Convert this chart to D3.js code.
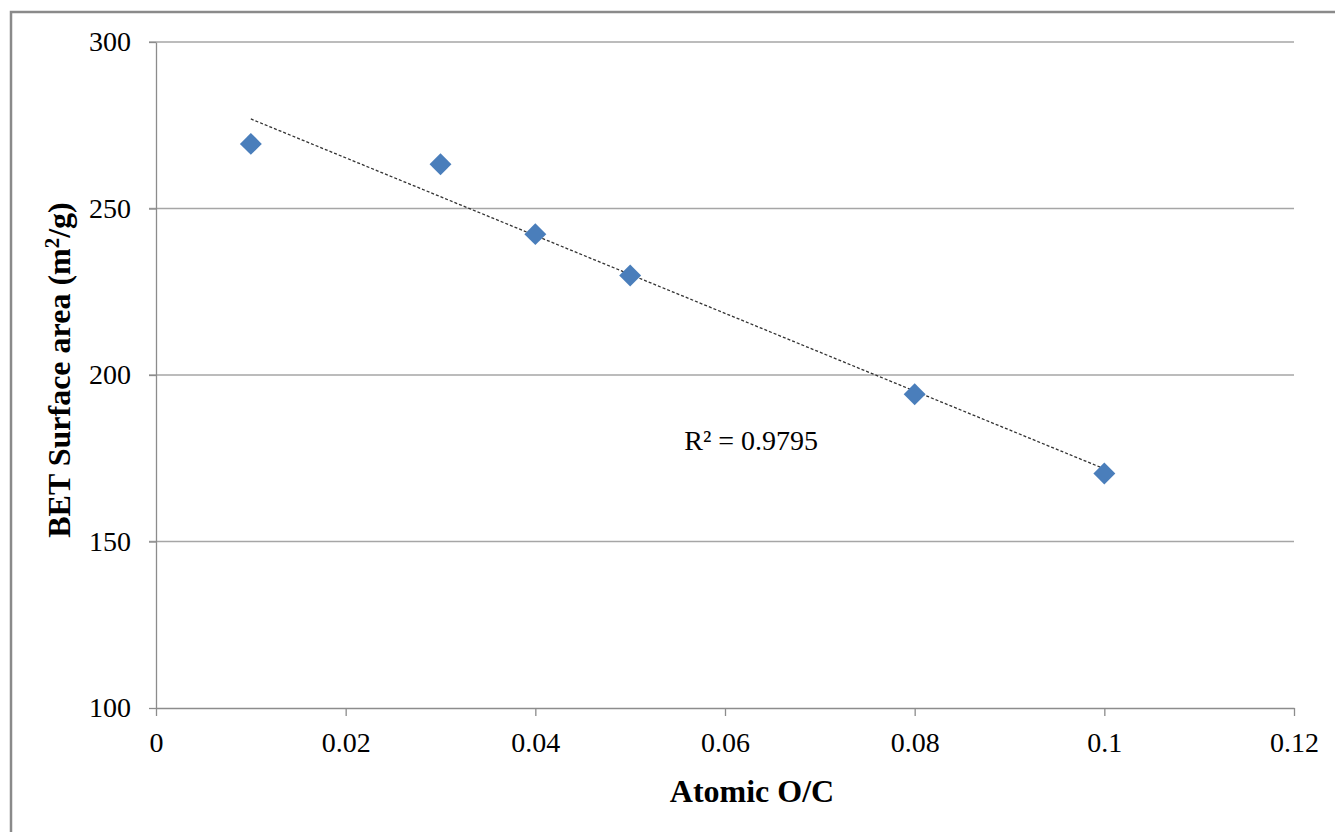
<!DOCTYPE html>
<html>
<head>
<meta charset="utf-8">
<script src="https://cdn.jsdelivr.net/npm/d3@7"></script>
<style>
  body { margin: 0; background: #fff; }
  text { font-family: "Liberation Serif", "Times New Roman", serif; }
</style>
</head>
<body>
<div id="chart"></div>
<script>
// data
var oc = [0.01, 0.03, 0.04, 0.05, 0.08, 0.1];
var bet = [269.4, 263.3, 242.3, 229.9, 194.2, 170.4];
var xTicks = [0, 0.02, 0.04, 0.06, 0.08, 0.1, 0.12];
var yTicks = [100, 150, 200, 250, 300];
var r2Label = "R² = 0.9795";

var W = 1335, H = 832;
var margin = {top: 42, right: 41, bottom: 124, left: 156},
  width = W - margin.left - margin.right,
  height = H - margin.top - margin.bottom;

var svg = d3.select("#chart")
.append("svg")
  .attr("width", W)
  .attr("height", H);

// outer chart frame (cut off at right/bottom)
svg.append("rect")
  .attr("x", 11).attr("y", 12)
  .attr("width", W + 20).attr("height", H + 20)
  .attr("fill", "none")
  .attr("stroke", "#8a8a8a")
  .attr("stroke-width", 2.5);

var g = svg.append("g")
  .attr("transform", "translate(" + margin.left + "," + margin.top + ")");

var x = d3.scaleLinear().domain([0, 0.12]).range([0, width]);
var y = d3.scaleLinear().domain([100, 300]).range([height, 0]);

// horizontal gridlines
g.append("g")
  .selectAll("line")
  .data(yTicks.filter(function(d) { return d > 100; }))
  .enter().append("line")
  .attr("x1", -7).attr("x2", width)
  .attr("y1", function(d) { return y(d); })
  .attr("y2", function(d) { return y(d); })
  .attr("stroke", "#a6a6a6")
  .attr("stroke-width", 1.3);

// y axis
var yAxis = g.append("g")
  .call(d3.axisLeft(y).tickValues(yTicks).tickSize(7).tickSizeOuter(0).tickPadding(18).tickFormat(d3.format("d")));
yAxis.select(".domain").attr("stroke", "#8c8c8c").attr("stroke-width", 1.3);
yAxis.selectAll(".tick line").attr("stroke", "#8c8c8c").attr("stroke-width", 1.3);
yAxis.selectAll("text")
  .style("font-size", "28px")
  .attr("fill", "#000");

// x axis
var xAxis = g.append("g")
  .attr("transform", "translate(0," + height + ")")
  .call(d3.axisBottom(x).tickValues(xTicks).tickSize(8).tickSizeOuter(0).tickPadding(16).tickFormat(function(d) { return d === 0 ? "0" : d3.format("")(+d.toFixed(2)); }));
xAxis.select(".domain").attr("stroke", "#8c8c8c").attr("stroke-width", 1.3);
xAxis.selectAll(".tick line").attr("stroke", "#8c8c8c").attr("stroke-width", 1.3);
xAxis.selectAll("text")
  .style("font-size", "28px")
  .attr("fill", "#000");

// linear trendline
var mx = d3.mean(oc), my = d3.mean(bet);
var sxy = d3.sum(oc, function(d, i) { return (d - mx) * (bet[i] - my); });
var sxx = d3.sum(oc, function(d) { return (d - mx) * (d - mx); });
var slope = sxy / sxx, icpt = my - slope * mx;
var x0 = d3.min(oc), x1 = d3.max(oc);

g.append("line")
  .attr("x1", x(x0)).attr("y1", y(icpt + slope * x0))
  .attr("x2", x(x1)).attr("y2", y(icpt + slope * x1))
  .attr("stroke", "#333")
  .attr("stroke-width", 1.3)
  .attr("stroke-dasharray", "3,2");

// points
var pts = oc.map(function(d, i) { return {x: d, y: bet[i]}; });
g.selectAll(".pt")
  .data(pts)
  .enter().append("path")
  .attr("class", "pt")
  .attr("d", d3.symbol().type(d3.symbolSquare).size(240))
  .attr("transform", function(d) { return "translate(" + x(d.x) + "," + y(d.y) + ") rotate(45)"; })
  .attr("fill", "#4a7ebb");

// R² label
g.append("text")
  .attr("x", x(0.0557))
  .attr("y", y(177.6))
  .style("font-size", "28px")
  .text(r2Label);

// axis titles
svg.append("text")
  .attr("x", 752)
  .attr("y", 802)
  .attr("text-anchor", "middle")
  .style("font-size", "32px")
  .style("font-weight", "bold")
  .text("Atomic O/C");

var yt = svg.append("text")
  .attr("transform", "translate(70,370) rotate(-90)")
  .attr("text-anchor", "middle")
  .style("font-size", "32px")
  .style("font-weight", "bold");
yt.append("tspan").text("BET Surface area (m");
yt.append("tspan").attr("dy", -11).style("font-size", "21px").text("2");
yt.append("tspan").attr("dy", 11).text("/g)");
</script>
</body>
</html>
